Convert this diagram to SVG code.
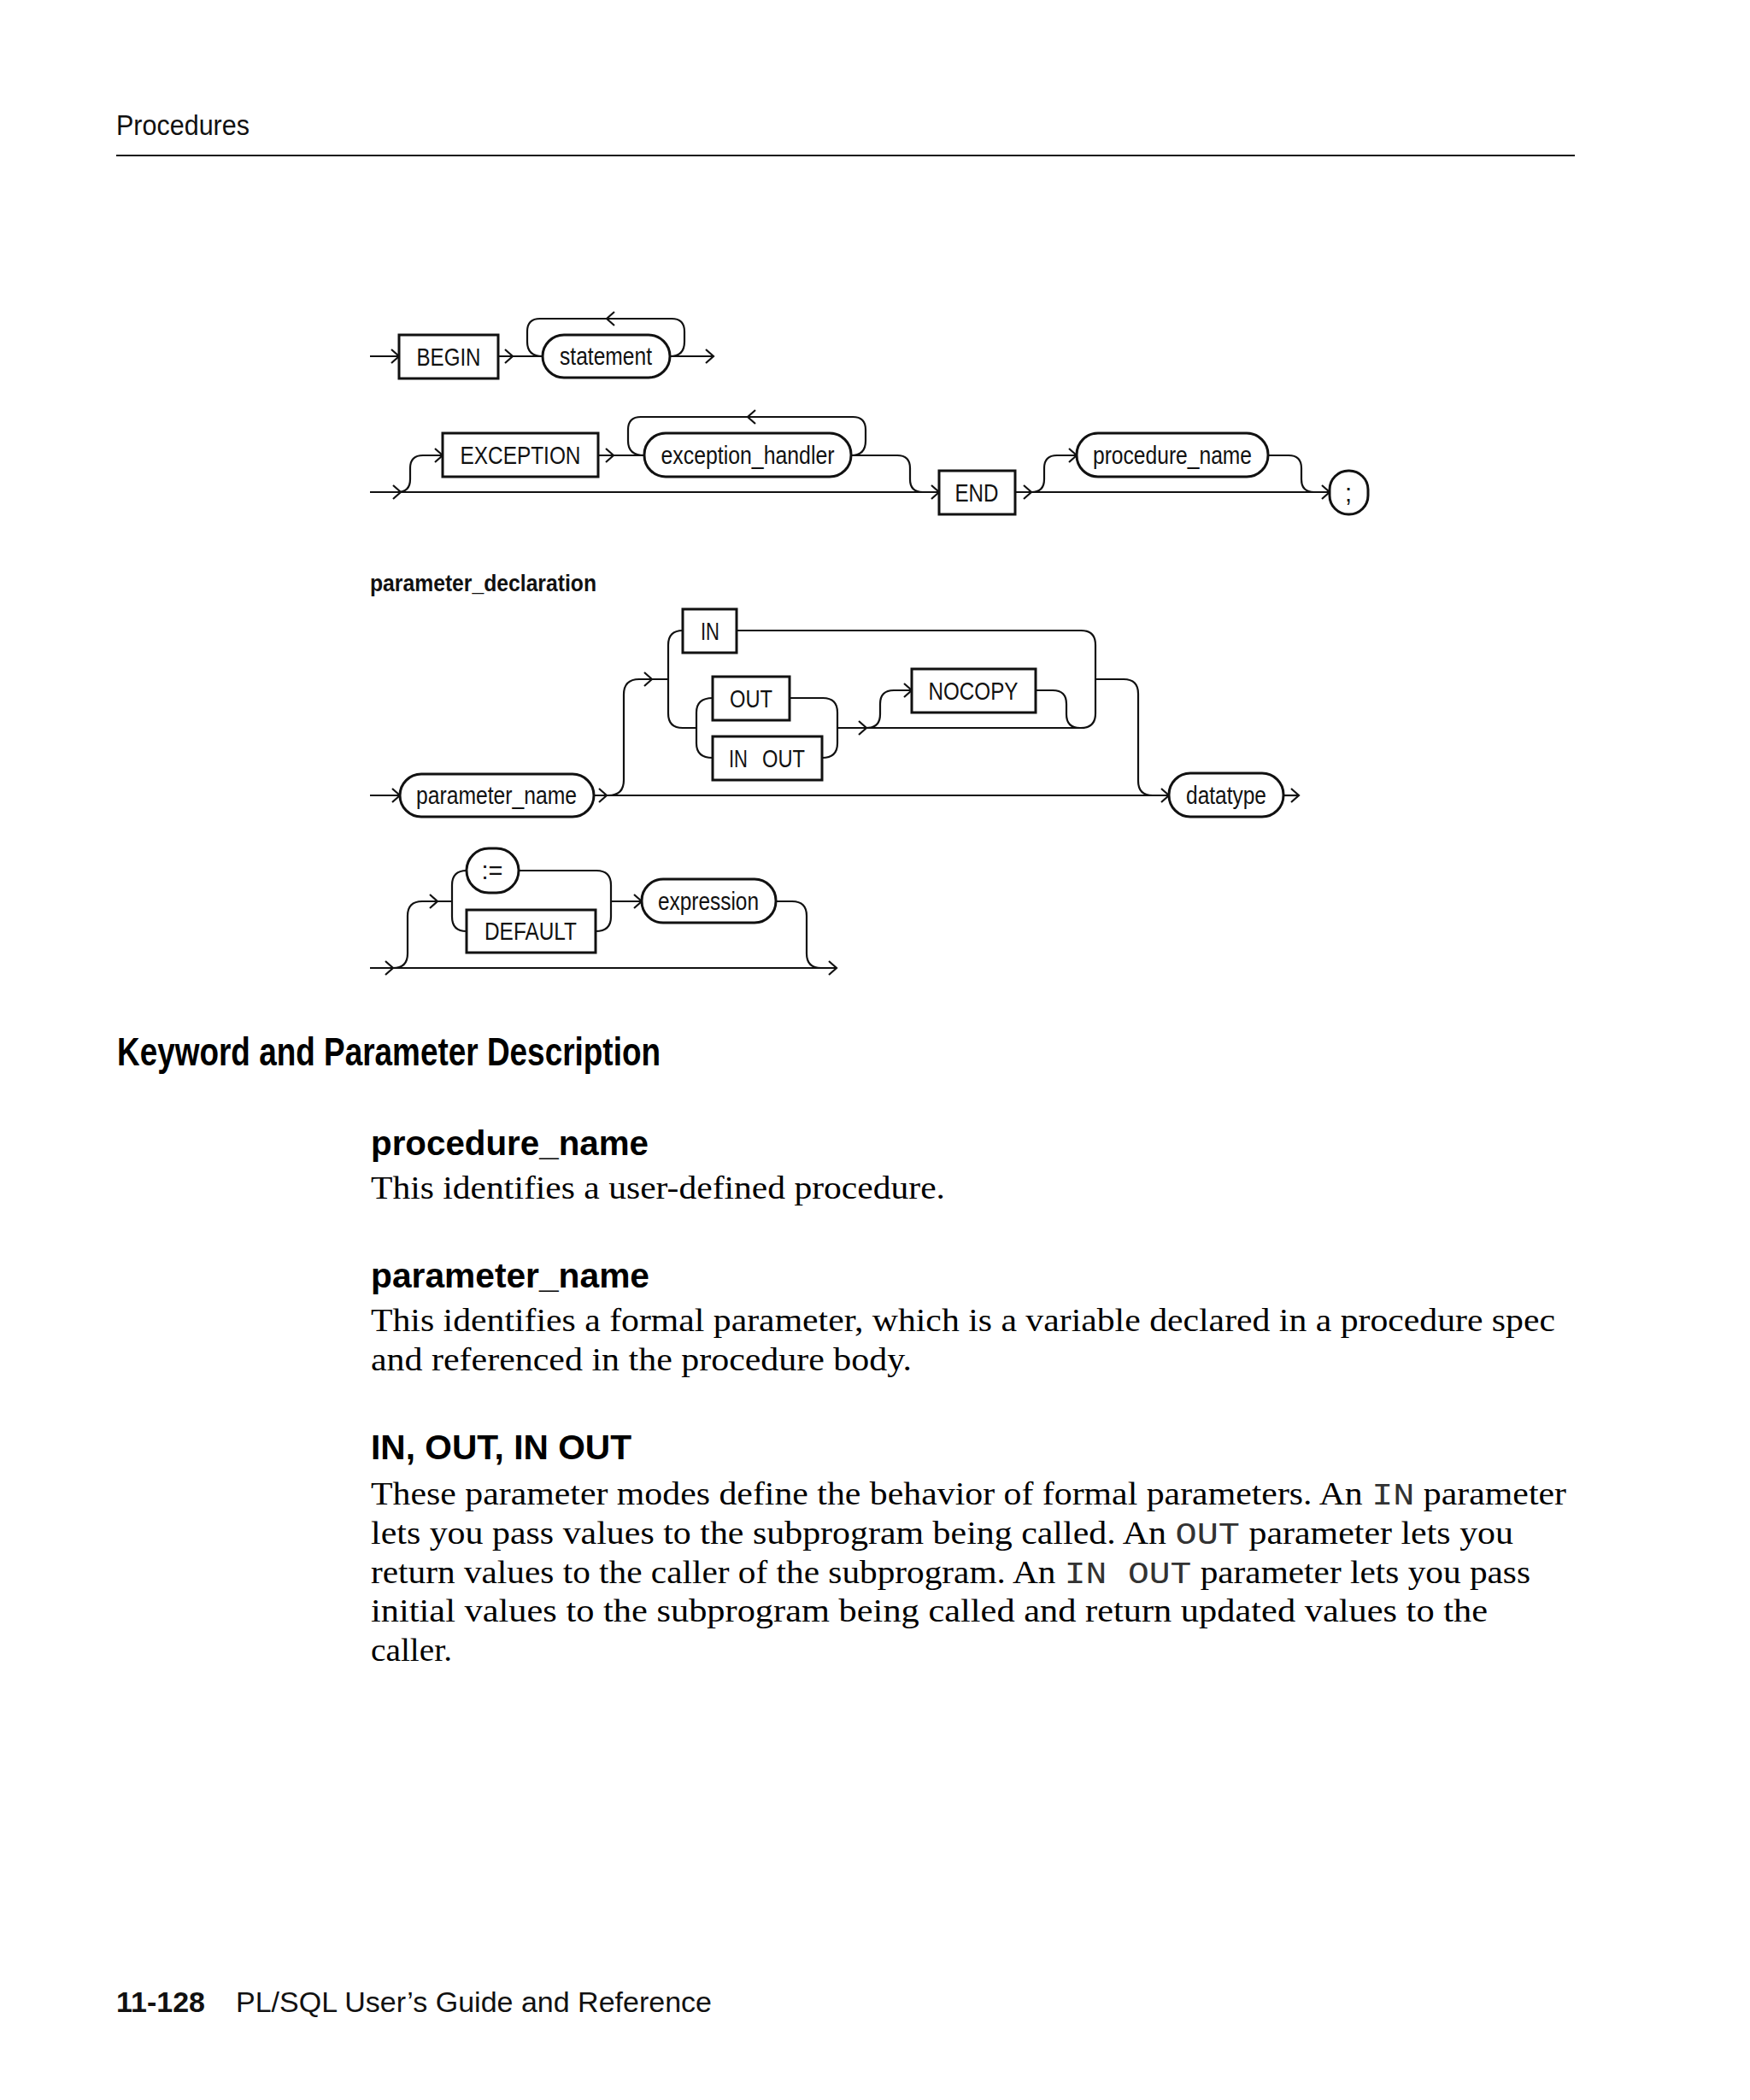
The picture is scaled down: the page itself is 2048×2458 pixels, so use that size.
<svg xmlns="http://www.w3.org/2000/svg" xmlns:xlink="http://www.w3.org/1999/xlink" width="2048" height="2458" viewBox="0 0 2048 2458">
<style>
.bg{fill:#fff}
.box{fill:#fff;stroke:#111;stroke-width:3}
.ln{fill:none;stroke:#111;stroke-width:2.2}
.ar{fill:none;stroke:#111;stroke-width:2.2;stroke-linejoin:miter}
.lbl{font-family:"Liberation Sans Narrow","Liberation Sans",Arial,sans-serif;font-size:29px;fill:#111;text-anchor:middle}
.hdr{font-family:"Liberation Sans Narrow","Liberation Sans",Arial,sans-serif;font-size:34px;fill:#111}
.ttl{font-family:"Liberation Sans",Arial,sans-serif;font-weight:bold;font-size:27px;fill:#111}
.h1{font-family:"Liberation Sans Narrow","Liberation Sans",Arial,sans-serif;font-weight:bold;font-size:47px;fill:#000}
.h2{font-family:"Liberation Sans",Arial,sans-serif;font-weight:bold;font-size:40px;fill:#000}
.body{font-family:"Liberation Serif","Times New Roman",serif;font-size:37px;fill:#000}
.mono{font-family:"Liberation Mono","Courier New",monospace;fill:#333}
.ft{font-family:"Liberation Sans",Arial,sans-serif;font-size:34px;fill:#111}
</style>
<defs>
<path id="chev" class="ar" d="M-9,-8 L0,0 L-9,8"/>
</defs>
<rect class="bg" x="0" y="0" width="2048" height="2458"/>

<!-- header -->
<text class="hdr" x="136" y="158" textLength="156" lengthAdjust="spacingAndGlyphs">Procedures</text>
<line x1="136" y1="182" x2="1843" y2="182" stroke="#111" stroke-width="2"/>

<!-- connectors -->
<g id="connectors">
  <!-- row 1 -->
  <path class="ln" d="M433,417 H467"/>
  <path class="ln" d="M583,417 H635"/>
  <path class="ln" d="M784,417 Q801,417 801,400 V388 Q801,373 786,373 H632 Q617,373 617,388 V400 Q617,417 635,417"/>
  <path class="ln" d="M784,417 H835"/>
  <use xlink:href="#chev" transform="translate(467,417)"/>
  <use xlink:href="#chev" transform="translate(600,417)"/>
  <use xlink:href="#chev" transform="translate(710,373) rotate(180)"/>
  <use xlink:href="#chev" transform="translate(835,417)"/>

  <!-- row 2 -->
  <path class="ln" d="M433,576 H1099"/>
  <path class="ln" d="M465,576 Q480,576 480,561 V548 Q480,533 495,533 H518"/>
  <path class="ln" d="M700,533 H754"/>
  <path class="ln" d="M996,533 Q1013,533 1013,516 V503 Q1013,488 998,488 H750 Q735,488 735,503 V516 Q735,533 754,533"/>
  <path class="ln" d="M996,533 H1050 Q1065,533 1065,548 V561 Q1065,576 1080,576"/>
  <path class="ln" d="M1188,576 H1556"/>
  <path class="ln" d="M1207,576 Q1222,576 1222,561 V548 Q1222,533 1237,533 H1260"/>
  <path class="ln" d="M1484,533 H1508 Q1523,533 1523,548 V561 Q1523,576 1538,576"/>
  <use xlink:href="#chev" transform="translate(469,576)"/>
  <use xlink:href="#chev" transform="translate(518,533)"/>
  <use xlink:href="#chev" transform="translate(718,533)"/>
  <use xlink:href="#chev" transform="translate(875,488) rotate(180)"/>
  <use xlink:href="#chev" transform="translate(1099,576)"/>
  <use xlink:href="#chev" transform="translate(1207,576)"/>
  <use xlink:href="#chev" transform="translate(1260,533)"/>
  <use xlink:href="#chev" transform="translate(1556,576)"/>

  <!-- parameter_declaration -->
  <path class="ln" d="M433,931 H468"/>
  <path class="ln" d="M695,931 H1368"/>
  <path class="ln" d="M712,931 Q730,931 730,913 V813 Q730,795 748,795 H782"/>
  <path class="ln" d="M799,738 Q782,738 782,755 V835 Q782,852 799,852 H815"/>
  <path class="ln" d="M834,817 Q815,817 815,834 V870 Q815,887 834,887"/>
  <path class="ln" d="M924,817 H963 Q980,817 980,834 V870 Q980,887 962,887"/>
  <path class="ln" d="M980,852 H1265"/>
  <path class="ln" d="M1014,852 Q1030,852 1030,836 V824 Q1030,808 1046,808 H1067"/>
  <path class="ln" d="M1212,808 H1232 Q1248,808 1248,824 V836 Q1248,852 1264,852"/>
  <path class="ln" d="M862,738 H1265 Q1282,738 1282,755 V835 Q1282,852 1265,852"/>
  <path class="ln" d="M1282,795 H1315 Q1332,795 1332,812 V914 Q1332,931 1349,931"/>
  <path class="ln" d="M1502,931 H1520"/>
  <use xlink:href="#chev" transform="translate(468,931)"/>
  <use xlink:href="#chev" transform="translate(710,931)"/>
  <use xlink:href="#chev" transform="translate(763,795)"/>
  <use xlink:href="#chev" transform="translate(1014,852)"/>
  <use xlink:href="#chev" transform="translate(1067,808)"/>
  <use xlink:href="#chev" transform="translate(1368,931)"/>
  <use xlink:href="#chev" transform="translate(1520,931)"/>

  <!-- default clause -->
  <path class="ln" d="M433,1133 H979"/>
  <path class="ln" d="M460,1133 Q477,1133 477,1116 V1072 Q477,1055 494,1055 H529"/>
  <path class="ln" d="M546,1019 Q529,1019 529,1036 V1073 Q529,1090 546,1090"/>
  <path class="ln" d="M607,1019 H698 Q715,1019 715,1036 V1073 Q715,1090 697,1090"/>
  <path class="ln" d="M715,1055 H751"/>
  <path class="ln" d="M908,1055 H927 Q944,1055 944,1072 V1116 Q944,1133 961,1133"/>
  <use xlink:href="#chev" transform="translate(460,1133)"/>
  <use xlink:href="#chev" transform="translate(512,1055)"/>
  <use xlink:href="#chev" transform="translate(751,1055)"/>
  <use xlink:href="#chev" transform="translate(979,1133)"/>
</g>

<!-- nodes -->
<g id="n-begin"><rect class="box" x="467" y="392" width="116" height="51"/><text class="lbl" x="525" y="428" textLength="75" lengthAdjust="spacingAndGlyphs">BEGIN</text></g>
<g id="n-statement"><rect class="box" x="635" y="392" width="149" height="50" rx="25"/><text class="lbl" x="709" y="427" textLength="108" lengthAdjust="spacingAndGlyphs">statement</text></g>
<g id="n-exception"><rect class="box" x="518" y="507" width="182" height="51"/><text class="lbl" x="609" y="543" textLength="141" lengthAdjust="spacingAndGlyphs">EXCEPTION</text></g>
<g id="n-exception_handler"><rect class="box" x="754" y="507" width="242" height="51" rx="25"/><text class="lbl" x="875" y="543" textLength="203" lengthAdjust="spacingAndGlyphs">exception_handler</text></g>
<g id="n-end"><rect class="box" x="1099" y="551" width="89" height="51"/><text class="lbl" x="1143" y="587" textLength="51" lengthAdjust="spacingAndGlyphs">END</text></g>
<g id="n-procedure_name"><rect class="box" x="1260" y="507" width="224" height="51" rx="25"/><text class="lbl" x="1372" y="543" textLength="186" lengthAdjust="spacingAndGlyphs">procedure_name</text></g>
<g id="n-semicolon"><rect class="box" x="1556" y="551" width="45" height="51" rx="22"/><text class="lbl" x="1578" y="587">;</text></g>

<text class="ttl" x="433" y="692" textLength="265" lengthAdjust="spacingAndGlyphs">parameter_declaration</text>

<g id="n-parameter_name"><rect class="box" x="468" y="906" width="227" height="50" rx="25"/><text class="lbl" x="581" y="941" textLength="188" lengthAdjust="spacingAndGlyphs">parameter_name</text></g>
<g id="n-in"><rect class="box" x="799" y="713" width="63" height="51"/><text class="lbl" x="831" y="749" textLength="22" lengthAdjust="spacingAndGlyphs">IN</text></g>
<g id="n-out"><rect class="box" x="834" y="792" width="90" height="51"/><text class="lbl" x="879" y="828" textLength="50" lengthAdjust="spacingAndGlyphs">OUT</text></g>
<g id="n-inout"><rect class="box" x="834" y="862" width="128" height="51"/><text class="lbl" y="898" style="text-anchor:start"><tspan x="853" textLength="22" lengthAdjust="spacingAndGlyphs">IN</tspan> <tspan x="892" textLength="50" lengthAdjust="spacingAndGlyphs">OUT</tspan></text></g>
<g id="n-nocopy"><rect class="box" x="1067" y="783" width="145" height="51"/><text class="lbl" x="1139" y="819" textLength="105" lengthAdjust="spacingAndGlyphs">NOCOPY</text></g>
<g id="n-datatype"><rect class="box" x="1368" y="905" width="134" height="51" rx="25"/><text class="lbl" x="1435" y="941" textLength="94" lengthAdjust="spacingAndGlyphs">datatype</text></g>
<g id="n-assign"><rect class="box" x="546" y="993" width="61" height="52" rx="26"/><text class="lbl" x="576" y="1029">:=</text></g>
<g id="n-default"><rect class="box" x="546" y="1065" width="151" height="50"/><text class="lbl" x="621" y="1100" textLength="108" lengthAdjust="spacingAndGlyphs">DEFAULT</text></g>
<g id="n-expression"><rect class="box" x="751" y="1029" width="157" height="51" rx="25"/><text class="lbl" x="829" y="1065" textLength="118" lengthAdjust="spacingAndGlyphs">expression</text></g>

<!-- description -->
<text class="h1" x="137" y="1247" textLength="636" lengthAdjust="spacingAndGlyphs">Keyword and Parameter Description</text>

<text class="h2" x="434" y="1352" textLength="325" lengthAdjust="spacingAndGlyphs">procedure_name</text>
<text class="body" x="434" y="1403" textLength="672" lengthAdjust="spacingAndGlyphs">This identifies a user-defined procedure.</text>

<text class="h2" x="434" y="1507" textLength="326" lengthAdjust="spacingAndGlyphs">parameter_name</text>
<text class="body" x="434" y="1558" textLength="1386" lengthAdjust="spacingAndGlyphs">This identifies a formal parameter, which is a variable declared in a procedure spec</text>
<text class="body" x="434" y="1604" textLength="633" lengthAdjust="spacingAndGlyphs">and referenced in the procedure body.</text>

<text class="h2" x="434" y="1708" textLength="305" lengthAdjust="spacingAndGlyphs">IN, OUT, IN OUT</text>
<text class="body" x="434" y="1761" textLength="1399" lengthAdjust="spacingAndGlyphs">These parameter modes define the behavior of formal parameters. An <tspan class="mono">IN</tspan> parameter</text>
<text class="body" x="434" y="1807" textLength="1337" lengthAdjust="spacingAndGlyphs">lets you pass values to the subprogram being called. An <tspan class="mono">OUT</tspan> parameter lets you</text>
<text class="body" x="434" y="1853" textLength="1357" lengthAdjust="spacingAndGlyphs">return values to the caller of the subprogram. An <tspan class="mono">IN OUT</tspan> parameter lets you pass</text>
<text class="body" x="434" y="1898" textLength="1307" lengthAdjust="spacingAndGlyphs">initial values to the subprogram being called and return updated values to the</text>
<text class="body" x="434" y="1944" textLength="95" lengthAdjust="spacingAndGlyphs">caller.</text>

<!-- footer -->
<text class="ft" x="136" y="2355" font-weight="bold">11-128</text>
<text class="ft" x="276" y="2355" textLength="557" lengthAdjust="spacingAndGlyphs">PL/SQL User’s Guide and Reference</text>
</svg>
